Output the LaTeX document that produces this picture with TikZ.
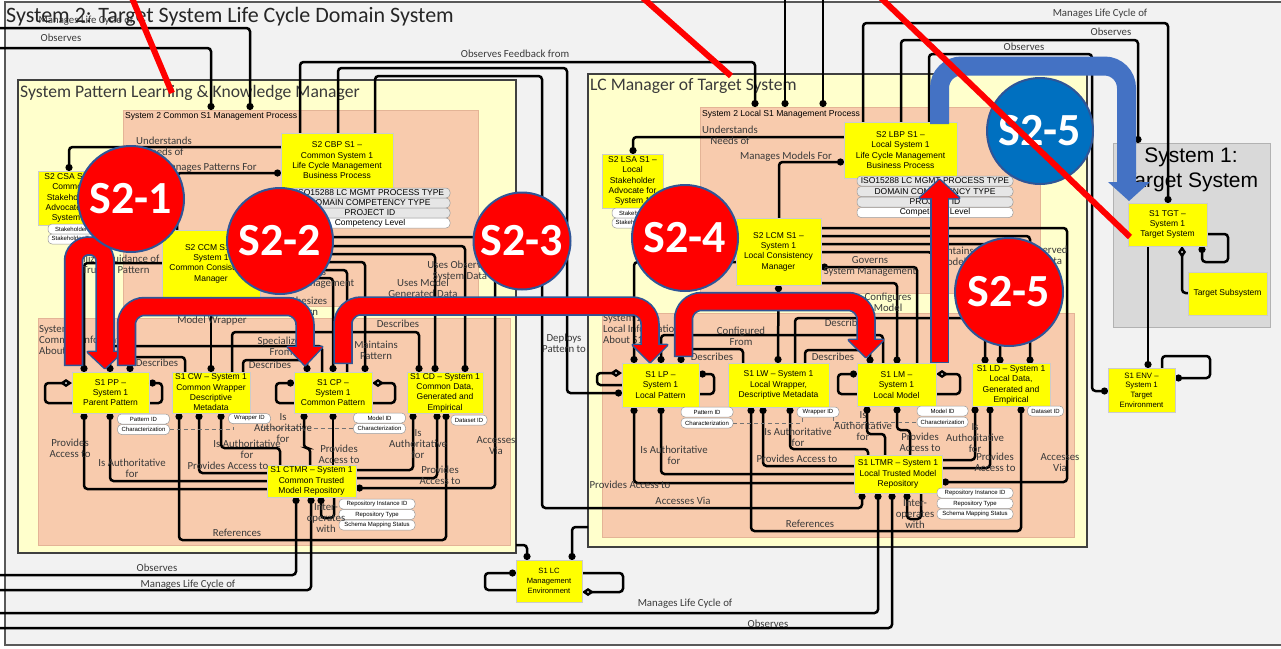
\documentclass[tikz,border=0pt]{standalone}
\usepackage{fontspec}
\setmainfont{Carlito}
\newfontfamily\arialf{Liberation Sans}
\usetikzlibrary{arrows.meta}

\definecolor{framebg}{HTML}{F2F2F2}
\definecolor{frameln}{HTML}{595959}
\definecolor{lemon}{HTML}{FFFFCC}
\definecolor{peach}{HTML}{F8CBAD}
\definecolor{peachln}{HTML}{E4B496}
\definecolor{boxyel}{HTML}{FFFF00}
\definecolor{sysgray}{HTML}{D9D9D9}
\definecolor{outl}{HTML}{2F5597}
\definecolor{tagblue}{HTML}{0070C0}
\definecolor{arrblue}{HTML}{4472C4}
\definecolor{pillgray}{HTML}{E6E6E6}
\definecolor{txtgray}{HTML}{3A3A3A}

\tikzset{
  lemonbox/.style={draw=black!75, line width=1.3pt, fill=lemon, inner sep=0pt, outer sep=0pt},
  peachbox/.style={draw=peachln, line width=0.8pt, fill=peach, inner sep=0pt, outer sep=0pt},
  ybox/.style={draw=black!20, line width=0.4pt, fill=boxyel, align=center, inner sep=0pt, outer sep=0pt,
    font=\arialf\fontsize{8.5}{10.3}\selectfont},
  pill/.style={draw=black!40, line width=0.5pt, fill=white, rounded corners=4pt, inner sep=0pt,
    outer sep=0pt, minimum height=10pt, font=\arialf\fontsize{6}{6}\selectfont},
  attr/.style={pill, minimum width=#1, fill=pillgray, font=\arialf\fontsize{8.5}{8.5}\selectfont},
  cn/.style={draw=black, line width=2.5pt, rounded corners=3.5pt},
  dE/.style={-{Circle[length=7pt]}},
  dS/.style={{Circle[length=7pt]}-},
  dB/.style={{Circle[length=7pt]}-{Circle[length=7pt]}},
  dmS/.style={{Diamond[fill=white,length=12pt,width=8pt]}-},
  lbl/.style={font=\fontsize{10.8}{11}\selectfont, text=txtgray, align=center, inner sep=0pt},
  hdr/.style={anchor=west, font=\fontsize{17.6}{19}\selectfont, text=txtgray, inner sep=0pt},
  sub/.style={anchor=west, font=\arialf\fontsize{8.6}{9}\selectfont, inner sep=0pt},
  dsh/.style={draw=black!55, line width=1pt, dash pattern=on 4pt off 3pt},
  stagecirc/.style={circle, draw=outl, line width=2pt, minimum size=#1, inner sep=0pt, text=white,
    font=\bfseries\fontsize{46}{46}\selectfont},
  shaftout/.style={draw=outl, line width=19.5pt, rounded corners=#1},
  shaftin/.style={draw=red, line width=16pt, rounded corners=#1},
  headout/.style={draw=outl, fill=outl, line width=3pt, line join=round},
  strike/.style={draw=red, line width=6pt},
}

\begin{document}
\begin{tikzpicture}[x=1pt,y=-1pt]
\useasboundingbox (0,0) rectangle (1281,648);
\clip (0,0) rectangle (1281,648);
\fill[white] (0,0) rectangle (1281,648);

% ---------- frames and containers ----------
\node[draw=frameln, line width=1.3pt, fill=framebg, minimum width=1290pt, minimum height=643pt,
      inner sep=0pt, outer sep=0pt] (frame) at (650,323.5) {};
\node[lemonbox, minimum width=498pt, minimum height=473pt] (lkm) at (267,316.5) {};
\node[peachbox, minimum width=355pt, minimum height=196pt] (cproc) at (300.5,208) {};
\node[peachbox, minimum width=472pt, minimum height=227pt] (cinfo) at (274,431.5) {};
\node[lemonbox, minimum width=499pt, minimum height=473pt] (lcmgr) at (837.5,310.5) {};
\node[peachbox, minimum width=340pt, minimum height=186pt] (lproc) at (870,200) {};
\node[peachbox, minimum width=472pt, minimum height=224pt] (linfo) at (838,425) {};
\node[draw=black!30, line width=1pt, fill=sysgray, minimum width=157pt, minimum height=184pt,
      inner sep=0pt, outer sep=0pt] (sys1) at (1191.5,235) {};

\node[hdr] at (20,93) {System Pattern Learning \& Knowledge Manager};
\node[hdr] at (590,86) {LC Manager of Target System};
\node[sub] at (125,116) {System 2 Common S1 Management Process};
\node[sub] at (702,114) {System 2 Local S1 Management Process};
\node[lbl, anchor=north west, align=left] at (39,325) {System 2\\Common Information\\About S1};
\node[lbl, anchor=north west, align=left] at (603,314) {System 2\\Local Information\\About S1};
\node[align=center, font=\arialf\fontsize{21}{25.5}\selectfont, inner sep=0pt] at (1191,170) {System 1:\\Target System};

% ---------- element boxes ----------
\node[ybox, minimum width=112pt, minimum height=55pt] (cbp) at (337,160.5) {S2 CBP S1 –\\Common System 1\\Life Cycle Management\\Business Process};
\node[ybox, minimum width=63pt, minimum height=54pt] (csa) at (69.5,198) {S2 CSA S1 –\\Common\\Stakeholder\\Advocate for\\System 1};
\node[ybox, minimum width=98pt, minimum height=67pt] (ccm) at (211,263.5) {S2 CCM S1 –\\System 1\\Common Consistency\\Manager};
\node[ybox, minimum width=77pt, minimum height=41pt] (pp) at (110.5,392.5) {S1 PP –\\System 1\\Parent Pattern};
\node[ybox, minimum width=78pt, minimum height=41pt] (cw) at (211,392.5) {S1 CW – System 1\\Common Wrapper\\Descriptive\\Metadata};
\node[ybox, minimum width=78pt, minimum height=41pt] (cp) at (333,392.5) {S1 CP –\\System 1\\Common Pattern};
\node[ybox, minimum width=76pt, minimum height=41pt] (cd) at (445,392.5) {S1 CD – System 1\\Common Data,\\Generated and\\Empirical};
\node[ybox, minimum width=89pt, minimum height=32pt] (ctmr) at (311.5,481) {S1 CTMR – System 1\\Common Trusted\\Model Repository};

\node[ybox, minimum width=61pt, minimum height=54pt] (lsa) at (632.5,181) {S2 LSA S1 –\\Local\\Stakeholder\\Advocate for\\System 1};
\node[ybox, minimum width=113pt, minimum height=56pt] (lbp) at (900.5,150) {S2 LBP S1 –\\Local System 1\\Life Cycle Management\\Business Process};
\node[ybox, minimum width=85pt, minimum height=67pt] (lcm) at (778.5,251.5) {S2 LCM S1 –\\System 1\\Local Consistency\\Manager};
\node[ybox, minimum width=77pt, minimum height=44pt] (lp) at (660.5,385) {S1 LP –\\System 1\\Local Pattern};
\node[ybox, minimum width=101pt, minimum height=44pt] (lw) at (778.5,385) {S1 LW – System 1\\Local Wrapper,\\Descriptive Metadata};
\node[ybox, minimum width=79pt, minimum height=43pt] (lm) at (896.5,385) {S1 LM –\\System 1\\Local Model};
\node[ybox, minimum width=78pt, minimum height=43pt] (ld) at (1011,385) {S1 LD – System 1\\Local Data,\\Generated and\\Empirical};
\node[ybox, minimum width=88pt, minimum height=38pt] (ltmr) at (898,474) {S1 LTMR – System 1\\Local Trusted Model\\Repository};

\node[ybox, minimum width=79pt, minimum height=43pt] (tgt) at (1167.5,224.5) {S1 TGT –\\System 1\\Target System};
\node[ybox, minimum width=79pt, minimum height=43pt] (tsub) at (1227.5,293.5) {Target Subsystem};
\node[ybox, minimum width=67pt, minimum height=44pt, font=\arialf\fontsize{7.8}{9.6}\selectfont] (env) at (1141.5,390) {S1 ENV –\\System 1\\Target\\Environment};
\node[ybox, minimum width=66pt, minimum height=42pt, font=\arialf\fontsize{7.6}{10}\selectfont] (lc) at (549,581) {S1 LC\\Management\\Environment};

% ---------- connectors: outer observation / life cycle links ----------
\draw[cn,dE] (0,28) -| (250,0 |- cproc.north);
\draw[cn,dE] (0,48) -| (211,0 |- cproc.north);
\draw[cn,dE] (300,0 |- cbp.north) |- (755,62) -- (755,0 |- lproc.north);
\draw[cn,dE] (338,0 |- cbp.north) |- (567,68) |- (lp.west |- 0,393);
\draw[cn,dE] (375,0 |- cbp.north) |- (542,76) |- (862,508) -- (862,0 |- ltmr.south);
\draw[cn,dE] (785,0) -- (785,0 |- lproc.north);
\draw[cn,dE] (823,0) -- (823,0 |- lproc.north);
\draw[cn,dE] (863,0 |- lbp.north) |- (1168,23) -- (1168,0 |- tgt.north);
\draw[cn,dE] (901,0 |- lbp.north) |- (1138,40) -- (1138,0 |- sys1.north);
\draw[cn,dE] (929,0 |- lbp.north) |- (1092,54) |- (env.west |- 0,391);
\draw[cn,dE] (1148,0 |- tgt.south) -- (1148,0 |- env.north);
\draw[cn,dS] (1202,0 |- tgt.south) -- (1202,262) -- (1228,262) -- (1228,234) -- (tgt.east |- 0,234);
\draw[cn,dmS] (1182,0 |- tgt.south) |- (tsub.west |- 0,293);
\draw[cn,dS] (env.east |- 0,378) -- (1210,378) -- (1210,356) -- (1162,356) -- (1162,0 |- env.north);

% S1 LC management environment
\draw[cn,dE] (lkm.east |- 0,545) -| (527,0 |- lc.north);
\draw[cn,dE] (lcmgr.west |- 0,527) -| (572,0 |- lc.north);
\draw[cn,dS] (lc.west |- 0,573) -- (485,573) -- (485,590) -- (lc.west |- 0,590);
\draw[cn,dmS] (lc.east |- 0,592) -- (623,592) -- (623,573) -- (lc.east |- 0,573);
\draw[cn,dS] (296,0 |- ctmr.south) |- (0,575);
\draw[cn,dS] (311,0 |- ctmr.south) |- (0,590);
\draw[cn,dS] (878,0 |- ltmr.south) |- (0,613);
\draw[cn,dS] (892,0 |- ltmr.south) |- (0,628);

% ---------- common (left) side ----------
\draw[cn,dE] (cbp.west |- 0,147) -| (69,0 |- csa.north);
\draw[cn,dS] (cbp.west |- 0,173) -| (177,0 |- ccm.north);
\draw[cn,dE] (ccm.west |- 0,263) -| (84,0 |- pp.north);
\draw[cn,dB] (ccm.south) -- (211,0 |- cw.north);
\draw[cn,dE] (ccm.east |- 0,237) -| (495,488) -- (ctmr.east |- 0,488);
\draw[cn,dE] (ccm.east |- 0,246) -| (465,0 |- cd.north);
\draw[cn,dE] (ccm.east |- 0,254) -| (435,0 |- cd.north);
\draw[cn,dE] (ccm.east |- 0,262) -| (365,0 |- cp.north);
\draw[cn] (ccm.east |- 0,270) -| (347,0 |- cp.north);
\draw[cn,dE] (ccm.east |- 0,278) -| (333,0 |- cp.north);
\draw[cn,dS] (110,0 |- pp.north) |- (322,346) -- (322,0 |- cp.north);
\draw[cn,dS] (130,0 |- pp.north) |- (185,357) -- (185,0 |- cw.north);
\draw[cn,dE] (243,0 |- cw.north) |- (307,360) -- (307,0 |- cp.north);
\draw[cn,dE] (232,0 |- cw.north) |- (419,332) -- (419,0 |- cd.north);
\draw[cn,dmS] (pp.west |- 0,383) -- (45,383) -- (45,403) -- (pp.west |- 0,403);
\draw[cn,dS] (pp.east |- 0,383) -- (162,383) -- (162,403) -- (pp.east |- 0,403);
\draw[cn,dS] (cp.west |- 0,383) -- (276,383) -- (276,403) -- (cp.west |- 0,403);
\draw[cn,dmS] (cp.east |- 0,383) -- (395,383) -- (395,403) -- (cp.east |- 0,403);
\draw[cn,dS] (84,0 |- pp.south) |- (ctmr.west |- 0,489);
\draw[cn,dS] (110,0 |- pp.south) |- (ctmr.west |- 0,481);
\draw[cn,dB] (179,0 |- cw.south) |- (446,540) -- (446,0 |- cd.south);
\draw[cn,dS] (199,0 |- cw.south) |- (ctmr.west |- 0,473);
\draw[cn,dS] (221,0 |- cw.south) |- (280,448) -- (280,0 |- ctmr.north);
\draw[cn,dS] (304,0 |- cp.south) |- (310,448) -- (310,0 |- ctmr.north);
\draw[cn,dS] (333,0 |- cp.south) -- (333,0 |- ctmr.north);
\draw[cn,dS] (413,0 |- cd.south) |- (ctmr.east |- 0,470);
\draw[cn,dS] (437,0 |- cd.south) |- (ctmr.east |- 0,478);
\draw[cn,dS] (321,0 |- ctmr.south) -- (321,518) -- (334,518) -- (334,0 |- ctmr.south);

% ---------- local (right) side ----------
\draw[cn,dE] (lbp.west |- 0,137) -| (633,0 |- lsa.north);
\draw[cn,dS] (lbp.west |- 0,162) -| (779,0 |- lcm.north);
\draw[cn,dE] (lcm.west |- 0,262) -| (634,0 |- lp.north);
\draw[cn,dB] (lcm.south) -- (778,0 |- lw.north);
\draw[cn,dE] (lcm.east |- 0,228) -| (1067,482) -- (ltmr.east |- 0,482);
\draw[cn,dE] (lcm.east |- 0,236) -| (1030,0 |- ld.north);
\draw[cn,dE] (lcm.east |- 0,244) -| (1000,0 |- ld.north);
\draw[cn] (lcm.east |- 0,252) -| (932,0 |- lm.north);
\draw[cn,dS] (lcm.east |- 0,267) -| (917,0 |- lm.north);
\draw[cn,dE] (lcm.east |- 0,283) -| (897,0 |- lm.north);
\draw[cn,dE] (795,0 |- lw.north) |- (985,318) -- (985,0 |- ld.north);
\draw[cn,dS] (681,0 |- lp.north) |- (743,349) -- (743,0 |- lw.north);
\draw[cn,dS] (661,0 |- lp.north) |- (883,335) -- (883,0 |- lm.north);
\draw[cn,dE] (805,0 |- lw.north) |- (870,350) -- (870,0 |- lm.north);
\draw[cn,dmS] (lp.west |- 0,373) -- (597,373) -- (597,385) -- (lp.west |- 0,385);
\draw[cn,dS] (lp.east |- 0,374) -- (714,374) -- (714,394) -- (lp.east |- 0,394);
\draw[cn,dS] (lm.west |- 0,374) -- (838,374) -- (838,394) -- (lm.west |- 0,394);
\draw[cn,dmS] (lm.east |- 0,374) -- (960,374) -- (960,394) -- (lm.east |- 0,394);
\draw[cn,dS] (634,0 |- lp.south) |- (ltmr.west |- 0,483);
\draw[cn,dS] (661,0 |- lp.south) |- (ltmr.west |- 0,474);
\draw[cn,dB] (751,0 |- lw.south) |- (1021,531) -- (1021,0 |- ld.south);
\draw[cn,dS] (763,0 |- lw.south) |- (ltmr.west |- 0,466);
\draw[cn,dS] (790,0 |- lw.south) |- (868,449) -- (868,0 |- ltmr.north);
\draw[cn,dS] (867,0 |- lm.south) |- (885,434) -- (885,0 |- ltmr.north);
\draw[cn,dS] (897,0 |- lm.south) |- (910,430) -- (910,0 |- ltmr.north);
\draw[cn,dS] (975,0 |- ld.south) |- (ltmr.east |- 0,460);
\draw[cn,dS] (990,0 |- ld.south) |- (ltmr.east |- 0,468);
\draw[cn,dS] (907,0 |- ltmr.south) -- (907,519) -- (921,519) -- (921,0 |- ltmr.south);

% box outlines again, above the line ends
\foreach \n in {cbp,csa,ccm,pp,cw,cp,cd,ctmr,lsa,lbp,lcm,lp,lw,lm,ld,ltmr,tgt,tsub,env,lc}
  \draw[draw=black!20, line width=0.4pt] (\n.north west) rectangle (\n.south east);

% ---------- attribute pills ----------
\node[attr=160pt] (cbpa1) at (370,193) {ISO15288 LC MGMT PROCESS TYPE};
\node[attr=160pt] (cbpa2) at (370,203) {DOMAIN COMPETENCY TYPE};
\node[attr=160pt] (cbpa3) at (370,213) {PROJECT ID};
\node[attr=160pt, fill=white] (cbpa4) at (370,223) {Competency Level};
\node[attr=156pt] (lbpa1) at (935,181) {ISO15288 LC MGMT PROCESS TYPE};
\node[attr=156pt] (lbpa2) at (935,191.5) {DOMAIN COMPETENCY TYPE};
\node[attr=156pt] (lbpa3) at (935,202) {PROJECT ID};
\node[attr=156pt, fill=white] (lbpa4) at (935,212.5) {Competency Level};
\node[pill, minimum width=54pt] (csap1) at (75,229) {Stakeholder ID};
\node[pill, minimum width=54pt] (csap2) at (75,239) {Stakeholder Type};
\node[pill, minimum width=54pt] (lsap1) at (639,213) {Stakeholder ID};
\node[pill, minimum width=54pt] (lsap2) at (639,223) {Stakeholder Type};

\node[pill, minimum width=52pt] (ppid) at (143.5,419) {Pattern ID};
\node[pill, minimum width=52pt] (ppchar) at (143.5,429.5) {Characterization};
\node[pill, minimum width=42pt] (cwid) at (249.5,418.5) {Wrapper ID};
\node[pill, minimum width=52pt] (cpmid) at (379.5,418) {Model ID};
\node[pill, minimum width=52pt] (cpchar) at (379.5,428.5) {Characterization};
\node[pill, minimum width=36pt] (cdid) at (469,420) {Dataset ID};
\node[pill, minimum width=76pt] (crep1) at (377,504) {Repository Instance ID};
\node[pill, minimum width=76pt] (crep2) at (377,514.5) {Repository Type};
\node[pill, minimum width=76pt] (crep3) at (377,525) {Schema Mapping Status};

\node[pill, minimum width=52pt] (lpid) at (707,412) {Pattern ID};
\node[pill, minimum width=52pt] (lpchar) at (707,423) {Characterization};
\node[pill, minimum width=42pt] (lwid) at (818,412) {Wrapper ID};
\node[pill, minimum width=51pt] (lmid) at (942.5,411) {Model ID};
\node[pill, minimum width=51pt] (lmchar) at (942.5,422) {Characterization};
\node[pill, minimum width=36pt] (ldid) at (1045.5,411) {Dataset ID};
\node[pill, minimum width=76pt] (lrep1) at (975,493) {Repository Instance ID};
\node[pill, minimum width=76pt] (lrep2) at (975,503.5) {Repository Type};
\node[pill, minimum width=76pt] (lrep3) at (975,514) {Schema Mapping Status};

\draw[dsh] (ppchar.east) -| ([xshift=5pt]cwid.south west);
\draw[dsh] ([xshift=-8pt]cwid.south east) |- (cpchar.west);
\draw[dsh] (lpchar.east) -| ([xshift=5pt]lwid.south west);
\draw[dsh] ([xshift=-6pt]lwid.south east) |- (lmchar.west);

% ---------- connector labels ----------
\node[lbl] at (86,21) {Manages Life Cycle of};
\node[lbl] at (61,38) {Observes};
\node[lbl] at (515,54) {Observes Feedback from};
\node[lbl] at (1100,14) {Manages Life Cycle of};
\node[lbl] at (1111,32) {Observes};
\node[lbl] at (1024,47) {Observes};

\node[lbl] at (164,146.5) {Understands\\Needs of};
\node[lbl] at (209,168) {Manages Patterns For};
\node[lbl] at (116,264) {Utilizes Guidance of\\Trusted Pattern};
\node[lbl] at (212,321) {Model Wrapper};
\node[lbl] at (308,278) {Governs\\System Management};
\node[lbl] at (302,306.5) {Synthesizes\\Pattern};
\node[lbl] at (460,271) {Uses Observed\\System Data};
\node[lbl] at (423,288) {Uses Model\\Generated Data};
\node[lbl] at (376,350) {Maintains\\Pattern};
\node[lbl] at (398,324) {Describes};
\node[lbl] at (281,346) {Specializes\\From};
\node[lbl] at (157,363) {Describes};
\node[lbl] at (270,365) {Describes};
\node[lbl] at (70,448) {Provides\\Access to};
\node[lbl] at (132,468) {Is Authoritative\\for};
\node[lbl] at (247,449) {Is Authoritative\\for};
\node[lbl] at (228,466) {Provides Access to};
\node[lbl] at (237,533) {References};
\node[lbl] at (283,428) {Is\\Authoritative\\for};
\node[lbl] at (339,454) {Provides\\Access to};
\node[lbl] at (418,444) {Is\\Authoritative\\for};
\node[lbl] at (440,475) {Provides\\Access to};
\node[lbl] at (496,446) {Accesses\\Via};
\node[lbl] at (326,518) {Inter-\\operates\\with};
\node[lbl] at (157,568) {Observes};
\node[lbl] at (188,585) {Manages Life Cycle of};

\node[lbl] at (730,135.5) {Understands\\Needs of};
\node[lbl] at (786,157) {Manages Models For};
\node[lbl] at (564,343) {Deploys\\Pattern to};
\node[lbl] at (870,266.5) {Governs\\System Management};
\node[lbl] at (888,302) {Configures\\Model};
\node[lbl] at (778,307) {Local Model Wrapper};
\node[lbl] at (952,256) {Maintains\\Model};
\node[lbl] at (1035,256) {Uses Observed\\System Data};
\node[lbl] at (990,289) {Uses Model\\Generated Data};
\node[lbl] at (741,336.5) {Configured\\From};
\node[lbl] at (712,357) {Describes};
\node[lbl] at (833,357) {Describes};
\node[lbl] at (846,323) {Describes};
\node[lbl] at (674,455) {Is Authoritative\\for};
\node[lbl] at (630,485) {Provides Access to};
\node[lbl] at (683,501) {Accesses Via};
\node[lbl] at (798,437) {Is Authoritative\\for};
\node[lbl] at (797,459) {Provides Access to};
\node[lbl] at (810,524) {References};
\node[lbl] at (863,426) {Is\\Authoritative\\for};
\node[lbl] at (920,442) {Provides\\Access to};
\node[lbl] at (975,438) {Is\\Authoritative\\for};
\node[lbl] at (995,462) {Provides\\Access to};
\node[lbl] at (1060,463) {Accesses\\Via};
\node[lbl] at (915,514) {Inter-\\operates\\with};
\node[lbl] at (685,604) {Manages Life Cycle of};
\node[lbl] at (768,624) {Observes};

% ---------- diagram title ----------
\node[anchor=west, font=\fontsize{22}{24}\selectfont, text=black!85, inner sep=0pt] at (6,17)
  {System 2: Target System Life Cycle Domain System};

% ---------- stage flow arrows ----------
% S2-1
\draw[shaftout=15pt] (73.5,366) -- (73.5,246) -- (105,246) -- (105,354);
\draw[headout] (88,352) -- (122,352) -- (105,368) -- cycle;
\draw[shaftin=15pt] (73.5,364.5) -- (73.5,246) -- (105,246) -- (105,354);
\fill[red] (88,352) -- (122,352) -- (105,368) -- cycle;
% S2-2
\draw[shaftout=18pt] (126.5,366) -- (126.5,306.5) -- (305,306.5) -- (305,349);
\draw[headout] (288,347) -- (322,347) -- (305,365) -- cycle;
\draw[shaftin=18pt] (126.5,364.5) -- (126.5,306.5) -- (305,306.5) -- (305,349);
\fill[red] (288,347) -- (322,347) -- (305,365) -- cycle;
% S2-3
\draw[shaftout=18pt] (343,364) -- (343,306) -- (650,306) -- (650,347);
\draw[headout] (633,345) -- (667,345) -- (650,362) -- cycle;
\draw[shaftin=18pt] (343,362.5) -- (343,306) -- (650,306) -- (650,347);
\fill[red] (633,345) -- (667,345) -- (650,362) -- cycle;
% S2-4
\draw[shaftout=18pt] (683.5,357) -- (683.5,301.5) -- (866,301.5) -- (866,342);
\draw[headout] (849,340) -- (883,340) -- (866,357) -- cycle;
\draw[shaftin=18pt] (683.5,355.5) -- (683.5,301.5) -- (866,301.5) -- (866,342);
\fill[red] (849,340) -- (883,340) -- (866,357) -- cycle;
% S2-5 (up to the business process)
\draw[draw=outl, line width=19.5pt] (939.5,363) -- (939.5,196);
\draw[headout] (920,198) -- (959,198) -- (939.5,180) -- cycle;
\draw[draw=red, line width=16pt] (939.5,361.5) -- (939.5,196);
\fill[red] (920,198) -- (959,198) -- (939.5,180) -- cycle;
% S2-5 (out to the target system)
\draw[draw=arrblue, line width=19pt, rounded corners=22pt] (939.5,124) -- (939.5,66) -- (1126.5,66) -- (1126.5,184);
\fill[arrblue] (1108,182) -- (1150,182) -- (1129,201) -- cycle;

% ---------- stage markers ----------
\node[stagecirc=106pt, fill=red] (s21) at (131,199) {S2-1};
\node[stagecirc=106pt, fill=red] (s22) at (280,241) {S2-2};
\node[stagecirc=97pt, fill=red] (s23) at (522,241) {S2-3};
\node[stagecirc=106pt, fill=red] (s24) at (685,238) {S2-4};
\node[stagecirc=108pt, fill=red] (s25) at (1009,292) {S2-5};
\node[stagecirc=106pt, fill=tagblue] (s25b) at (1040,131) {S2-5};

% ---------- strike lines ----------
\draw[strike] (132,-2) -- (172,93);
\draw[strike] (643,-2) -- (731,76);
\draw[strike] (881,-2) -- (1130,237);
\end{tikzpicture}
\end{document}
